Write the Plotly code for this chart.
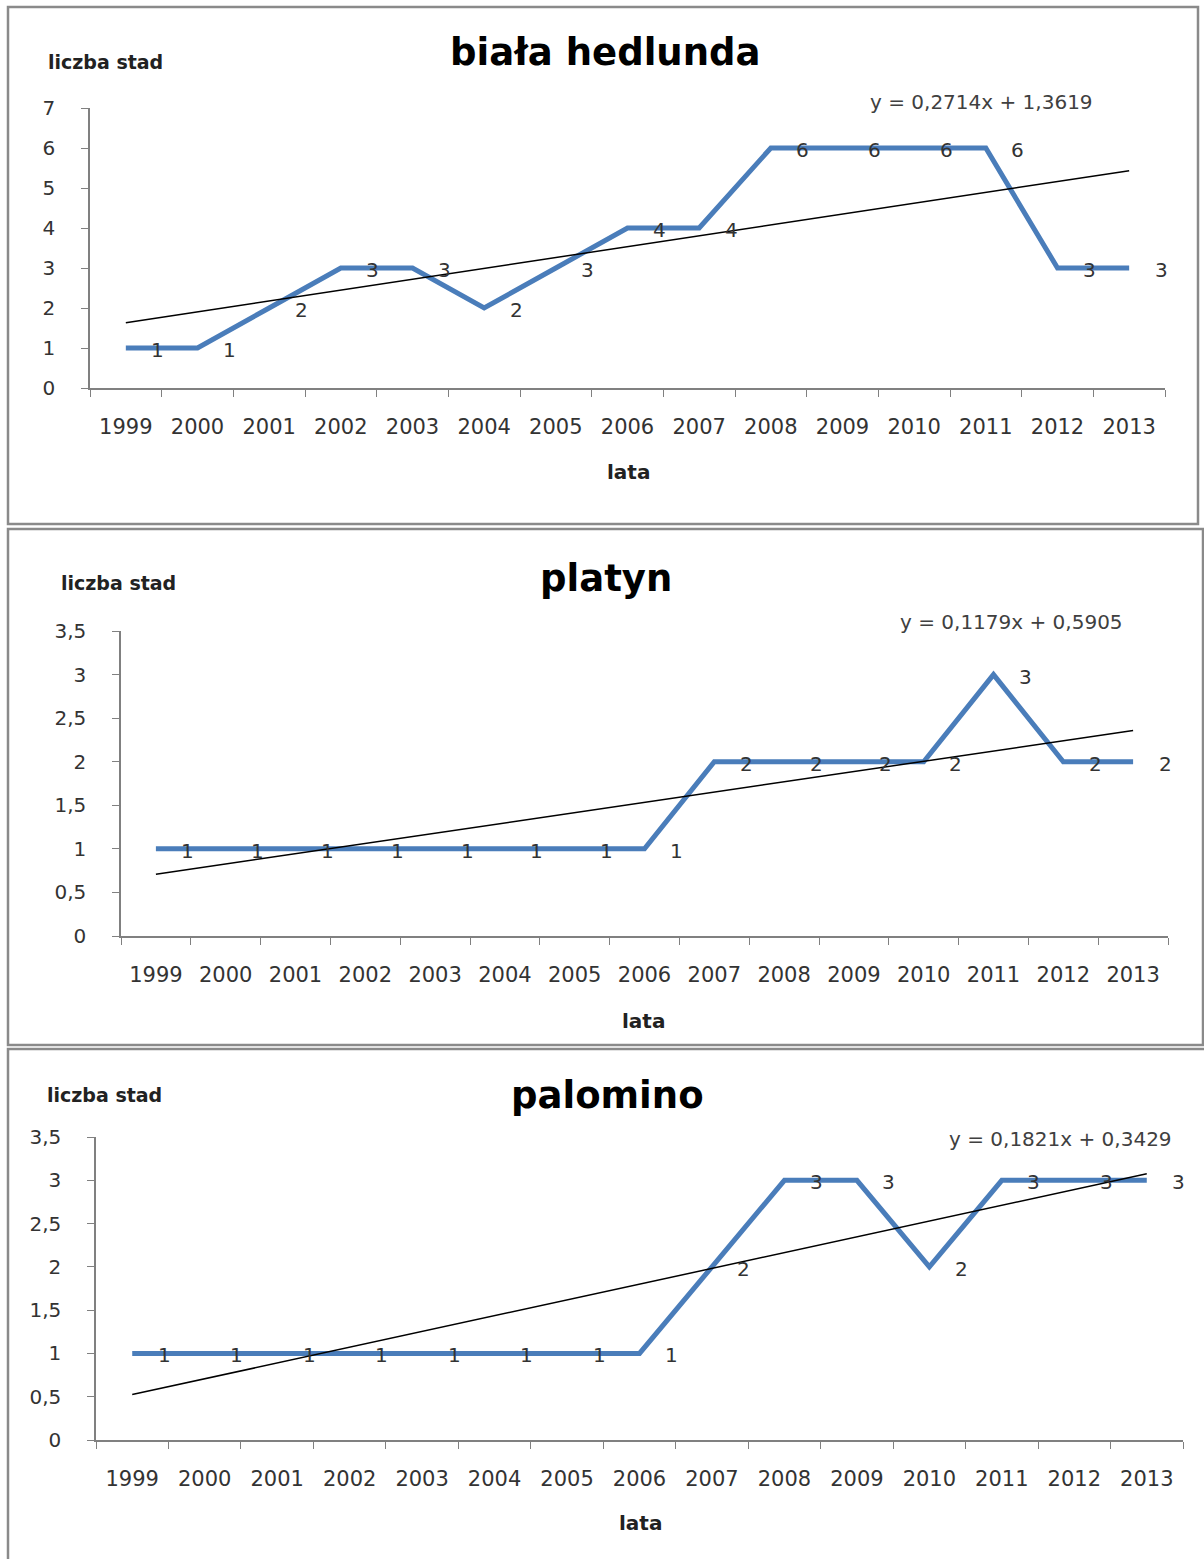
import numpy as np
import plotly.graph_objects as go

W, H = 1204, 1559

years = [str(y) for y in range(1999, 2014)]
titles = ["biała hedlunda", "platyn", "palomino"]
hedlunda = [1, 1, 2, 3, 3, 2, 3, 4, 4, 6, 6, 6, 6, 3, 3]
platyn = [1, 1, 1, 1, 1, 1, 1, 1, 2, 2, 2, 2, 3, 2, 2]
palomino = [1, 1, 1, 1, 1, 1, 1, 1, 2, 3, 3, 2, 3, 3, 3]
equations = ["y = 0,2714x + 1,3619", "y = 0,1179x + 0,5905", "y = 0,1821x + 0,3429"]
y_ticks_1 = [0, 1, 2, 3, 4, 5, 6, 7]
y_ticktext_1 = ["0", "1", "2", "3", "4", "5", "6", "7"]
y_ticks_2 = [0, 0.5, 1, 1.5, 2, 2.5, 3, 3.5]
y_ticktext_2 = ["0", "0,5", "1", "1,5", "2", "2,5", "3", "3,5"]
y_label = "liczba stad"
x_label = "lata"

series = [hedlunda, platyn, palomino]
yranges = [[0, 7], [0, 3.5], [0, 3.5]]
yticks = [(y_ticks_1, y_ticktext_1), (y_ticks_2, y_ticktext_2), (y_ticks_2, y_ticktext_2)]

# layout in pixels
plot_boxes = [  # x0, x1, ytop, ybottom
    (90, 1165, 108, 388),
    (121, 1168, 631, 936),
    (96, 1183, 1137, 1440),
]
title_pos = [(605, 52), (606, 578), (607, 1095)]
ylab_pos = [(106, 62), (118, 583), (104, 1095)]
xlab_pos = [(628, 472), (643, 1021), (640, 1523)]
eq_pos = [(981, 102), (1011, 622), (1060, 1139)]
borders = [(8, 7, 1198, 524), (8, 529, 1203, 1045), (8, 1049, 1212, 1570)]

def px(x):
    return x / W

def py(y):
    return 1 - y / H

LINE_COLOR = "#4A7DBA"
FONT = "DejaVu Sans"
TXT = "#333333"
AX = "#808080"

fig = go.Figure()
annotations = []
shapes = []

n_cat = len(years)
pos = np.arange(1, n_cat + 1)            # category centres
bounds = np.arange(0.5, n_cat + 1.0, 1)  # category boundaries

for i, vals in enumerate(series):
    n = "" if i == 0 else str(i + 1)
    xa, ya = "x" + n, "y" + n
    fig.add_trace(go.Scatter(x=pos, y=vals, mode="lines",
                             line=dict(color=LINE_COLOR, width=5),
                             xaxis=xa, yaxis=ya, showlegend=False))
    a, b = np.polyfit(pos, vals, 1)
    fig.add_trace(go.Scatter(x=pos, y=a * pos + b, mode="lines",
                             line=dict(color="black", width=1.5),
                             xaxis=xa, yaxis=ya, showlegend=False))
    for xv, v in zip(pos, vals):
        annotations.append(dict(x=float(xv), y=v, xref=xa, yref=ya, text=str(v),
                                showarrow=False, xshift=32, yshift=-2,
                                xanchor="center", yanchor="middle",
                                font=dict(family=FONT, size=20, color=TXT)))
    x0, x1, yt, yb = plot_boxes[i]
    fig.update_layout(**{
        ("xaxis" + n): dict(domain=[px(x0), px(x1)], anchor=ya, type="linear",
                            range=[0.5, n_cat + 0.5], tickvals=list(pos), ticktext=years,
                            ticks="", showline=True, linecolor=AX, linewidth=1.5,
                            minor=dict(tickvals=list(bounds), ticks="outside", ticklen=7,
                                       tickcolor=AX, tickwidth=1.2, showgrid=False),
                            showgrid=False, zeroline=False, automargin=False,
                            ticklabelstandoff=19,
                            tickfont=dict(family=FONT, size=21, color=TXT)),
        ("yaxis" + n): dict(domain=[py(yb), py(yt)], anchor=xa, range=yranges[i],
                            tickvals=yticks[i][0], ticktext=yticks[i][1],
                            ticks="outside", ticklen=7, tickcolor=AX, tickwidth=1.2,
                            showline=True, linecolor=AX, linewidth=1.5,
                            showgrid=False, zeroline=False, automargin=False,
                            ticklabelstandoff=22,
                            tickfont=dict(family=FONT, size=20, color=TXT)),
    })
    tx, ty = title_pos[i]
    annotations.append(dict(x=px(tx), y=py(ty), xref="paper", yref="paper",
                            xanchor="center", yanchor="middle",
                            text="<b>" + titles[i] + "</b>", showarrow=False,
                            font=dict(family=FONT, size=37, color="black")))
    lx, ly = ylab_pos[i]
    annotations.append(dict(x=px(lx), y=py(ly), xref="paper", yref="paper",
                            xanchor="center", yanchor="middle",
                            text="<b>" + y_label + "</b>", showarrow=False,
                            font=dict(family=FONT, size=19, color="#222")))
    lx, ly = xlab_pos[i]
    annotations.append(dict(x=px(lx), y=py(ly), xref="paper", yref="paper",
                            xanchor="center", yanchor="middle",
                            text="<b>" + x_label + "</b>", showarrow=False,
                            font=dict(family=FONT, size=20, color="#222")))
    ex, ey = eq_pos[i]
    annotations.append(dict(x=px(ex), y=py(ey), xref="paper", yref="paper",
                            xanchor="center", yanchor="middle",
                            text=equations[i], showarrow=False,
                            font=dict(family=FONT, size=20, color="#404040")))
    bx0, by0, bx1, by1 = borders[i]
    shapes.append(dict(type="rect", xref="paper", yref="paper",
                       x0=px(bx0), x1=px(bx1), y0=py(by0), y1=py(by1),
                       line=dict(color="#8a8a8a", width=2.5)))

fig.update_layout(width=W, height=H, margin=dict(l=0, r=0, t=0, b=0, pad=0),
                  template="none", autosize=False,
                  paper_bgcolor="white", plot_bgcolor="white",
                  annotations=annotations, shapes=shapes, showlegend=False)

fig.write_html("out.html")
